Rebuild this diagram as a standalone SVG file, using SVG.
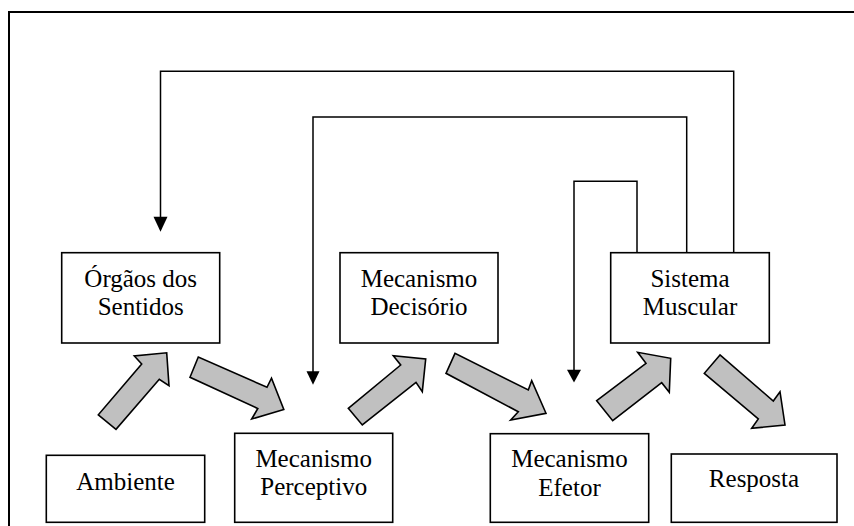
<svg xmlns="http://www.w3.org/2000/svg" width="854" height="526" viewBox="0 0 854 526">
  <style>
    .box { fill: #ffffff; stroke: #000000; stroke-width: 1.6; }
    .lbl { font-family: "Liberation Serif", "Times New Roman", serif; font-size: 25px; fill: #000000; text-anchor: middle; }
    .wire { fill: none; stroke: #000000; stroke-width: 1.5; }
    .tip { fill: #000000; }
    .flow { fill: #c0c0c0; stroke: #000000; stroke-width: 1.6; stroke-linejoin: miter; }
    .frame { fill: none; stroke: #000000; stroke-width: 2; }
  </style>

  <rect width="854" height="526" fill="#ffffff"/>

  <!-- outer frame (open on the right and bottom) -->
  <polyline class="frame" points="9,526 9,12 854,12"/>

  <g id="connectors">
    <!-- feedback lines from Sistema Muscular -->
    <polyline class="wire" points="733.7,252 733.7,71.3 160.5,71.3 160.5,217"/>
    <polygon class="tip" points="153.5,216.7 167.5,216.7 160.5,231.7"/>
    <polyline class="wire" points="686.7,252 686.7,117 313,117 313,372"/>
    <polygon class="tip" points="306.5,371.3 319.5,371.3 313,384.7"/>
    <polyline class="wire" points="637,252 637,181.3 574,181.3 574,370"/>
    <polygon class="tip" points="567,369.7 581,369.7 574,382.5"/>

    <!-- block flow arrows -->
    <polygon class="flow" points="98.3,414.8 116,429.3 159.3,379.3 169,385.7 166.7,352.8 134.3,356 141.7,364"/>
    <polygon class="flow" points="198.3,357 190,377.3 257.8,408.5 251.7,419 283.8,409.5 271.5,378.2 267,387.3"/>
    <polygon class="flow" points="348.3,408.3 362.3,425 416,382.3 422.3,391.7 425.7,359 393.3,355.7 400.7,365"/>
    <polygon class="flow" points="455,353.3 446,373.3 518.3,411.7 510.7,420 546,413.3 531.7,380.7 528.3,390"/>
    <polygon class="flow" points="596.7,400.7 612.7,420.7 661.7,382.7 669.3,392.3 670.7,358.3 637.7,352.3 646,363.3"/>
    <polygon class="flow" points="720,355 704.3,373.3 758.3,419 751.7,428.3 785,425 780,391.7 773.3,401"/>
  </g>

  <g id="orgaos">
    <rect class="box" x="61.7" y="252.7" width="158" height="90.3"/>
    <text class="lbl" x="140.7" y="286.5">Órgãos dos</text>
    <text class="lbl" x="140.7" y="315">Sentidos</text>
  </g>

  <g id="decisorio">
    <rect class="box" x="340" y="252.7" width="158" height="90.3"/>
    <text class="lbl" x="419" y="286.5">Mecanismo</text>
    <text class="lbl" x="419" y="315">Decisório</text>
  </g>

  <g id="muscular">
    <rect class="box" x="610.7" y="252.7" width="158.6" height="90.3"/>
    <text class="lbl" x="690" y="286.5">Sistema</text>
    <text class="lbl" x="690" y="315">Muscular</text>
  </g>

  <g id="ambiente">
    <rect class="box" x="46.3" y="455.3" width="158.4" height="67"/>
    <text class="lbl" x="125.5" y="489.7">Ambiente</text>
  </g>

  <g id="perceptivo">
    <rect class="box" x="234.7" y="433.3" width="158" height="89"/>
    <text class="lbl" x="313.7" y="467">Mecanismo</text>
    <text class="lbl" x="313.7" y="495">Perceptivo</text>
  </g>

  <g id="efetor">
    <rect class="box" x="490.3" y="433.7" width="158.4" height="88.6"/>
    <text class="lbl" x="569.5" y="467">Mecanismo</text>
    <text class="lbl" x="569.5" y="495.5">Efetor</text>
  </g>

  <g id="resposta">
    <rect class="box" x="671.3" y="454" width="165.7" height="68.3"/>
    <text class="lbl" x="754" y="487">Resposta</text>
  </g>
</svg>
